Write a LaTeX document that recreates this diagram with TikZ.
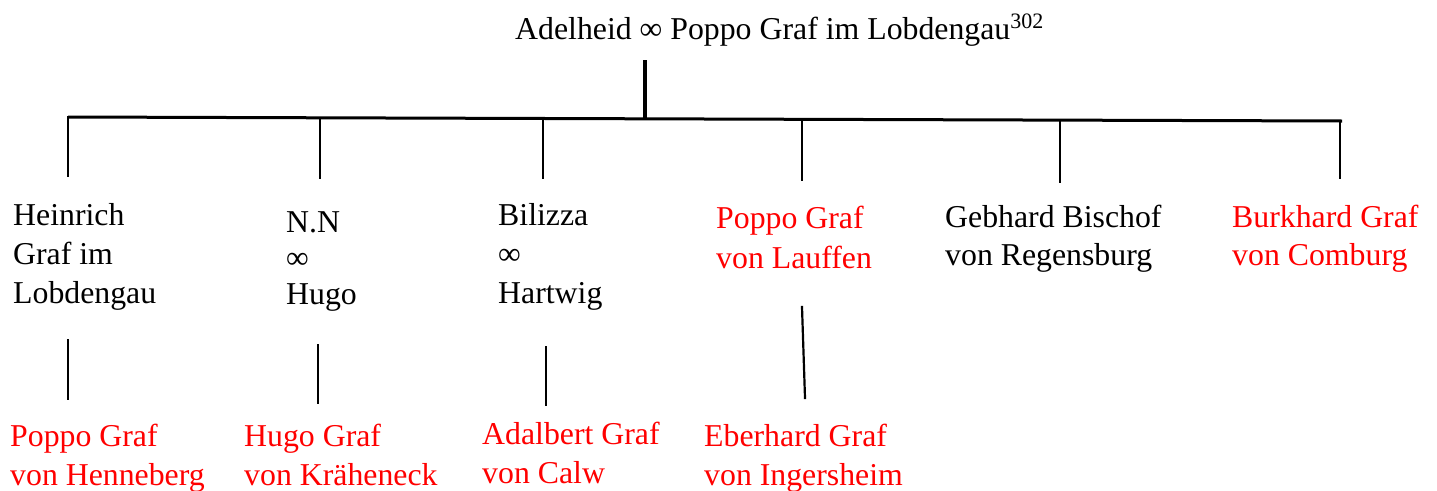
\documentclass[tikz,border=0pt]{standalone}
\usepackage{fontspec}
\setmainfont{Liberation Serif}
\begin{document}
\begin{tikzpicture}[x=1pt,y=-1pt,
  lbl/.style={anchor=base west, inner sep=0pt, align=left, font=\fontsize{31.8}{39}\selectfont},
  redlbl/.style={lbl, text=red},
  conn/.style={line width=2.2pt, line cap=rect},
  thick conn/.style={line width=3pt}]
\useasboundingbox (0,0) rectangle (1437,490);
% texts (anchored at the baseline of their last line)
\node[lbl] (top) at (515,39) {Adelheid ∞ Poppo Graf im Lobdengau\raisebox{11pt}{\fontsize{22}{22}\selectfont 302}};
\node[lbl] (heinrich) at (13,303) {Heinrich\\Graf im\\Lobdengau};
\node[lbl, font=\fontsize{31.8}{36}\selectfont] (nn) at (286,304) {N.N\\∞\\Hugo};
\node[lbl] (bilizza) at (498,303) {Bilizza\\∞\\Hartwig};
\node[redlbl, font=\fontsize{31.8}{40}\selectfont] (lauffen) at (716,268) {Poppo Graf\\von Lauffen};
\node[lbl, font=\fontsize{31.8}{38}\selectfont] (gebhard) at (945,265) {Gebhard Bischof\\von Regensburg};
\node[redlbl, font=\fontsize{31.8}{38}\selectfont] (burkhard) at (1232,265) {Burkhard Graf\\von Comburg};
\node[redlbl] (henneberg) at (10,485) {Poppo Graf\\von Henneberg};
\node[redlbl] (kraheneck) at (244,485) {Hugo Graf\\von Kräheneck};
\node[redlbl] (calw) at (482,483) {Adalbert Graf\\von Calw};
\node[redlbl] (ingersheim) at (704,485) {Eberhard Graf\\von Ingersheim};
% coordinates
\coordinate (t0) at (645,60);
\coordinate (t1) at (645,118.8);
\coordinate (b1) at (68,117);
\coordinate (b2) at (320,117.8);
\coordinate (b3) at (543,118.5);
\coordinate (b4) at (802,119.3);
\coordinate (b5) at (1060,120.1);
\coordinate (b6) at (1342,121);
\coordinate (b6d) at (1340,121);
\coordinate (e1) at (68,176);
\coordinate (e2) at (320,178);
\coordinate (e3) at (543,178);
\coordinate (e4) at (802,180);
\coordinate (e5) at (1060,182);
\coordinate (e6) at (1340,178);
\coordinate (s1a) at (68,340);  \coordinate (s1b) at (68,399);
\coordinate (s2a) at (318,345); \coordinate (s2b) at (318,403);
\coordinate (s3a) at (546,347); \coordinate (s3b) at (546,405);
\coordinate (s4a) at (802,307); \coordinate (s4b) at (805,398);
% connectors
\draw[line width=3.5pt] (t0) -- (t1);
\draw[thick conn] (b1) -- (b6);
\draw[conn] (b1) -- (e1);
\draw[conn] (b2) -- (e2);
\draw[conn] (b3) -- (e3);
\draw[conn] (b4) -- (e4);
\draw[conn] (b5) -- (e5);
\draw[conn] (b6d) -- (e6);
\draw[conn] (s1a) -- (s1b);
\draw[conn] (s2a) -- (s2b);
\draw[conn] (s3a) -- (s3b);
\draw[conn] (s4a) -- (s4b);
\end{tikzpicture}
\end{document}
